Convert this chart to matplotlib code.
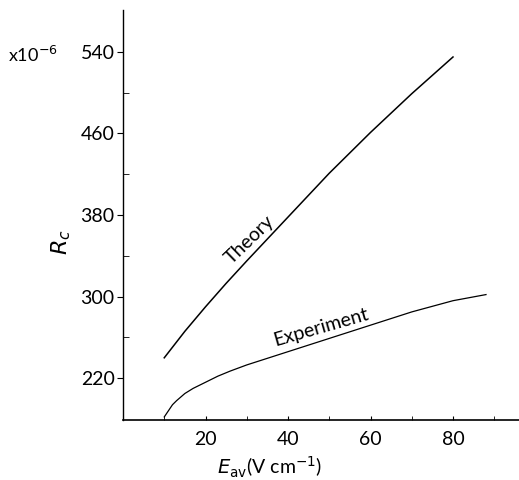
import numpy as np
import matplotlib
matplotlib.use("Agg")
import matplotlib.pyplot as plt
from matplotlib.ticker import FixedLocator

# curve values (E_av in V/cm, R_c in units of 1e-6)
theory_e = [10, 15, 20, 25, 30, 40, 50, 60, 70, 80]
theory_r = [240, 266, 290, 313, 335, 378, 421, 461, 499, 535]

exp_e = [10, 11, 12, 13, 15, 17, 20, 23, 26, 30, 40, 50, 60, 70, 80, 88]
exp_r = [182, 188, 194, 198, 205, 210, 216, 222, 227, 233, 246, 259, 272, 285, 296, 302]

x_ticks = [20, 40, 60, 80]
x_minor = [10, 30, 50, 70, 90]
y_ticks = [220, 300, 380, 460, 540]
y_minor = [260, 340, 420, 500]

plt.rcParams['font.family'] = ['Lato', 'DejaVu Sans']

fig = plt.figure(figsize=(5.19, 4.8), dpi=100)
ax = fig.add_axes([0.237, 0.125, 0.763, 0.854])

ax.plot(theory_e, theory_r, color='black', lw=1.1)
ax.plot(exp_e, exp_r, color='black', lw=0.9)

ax.set_xlim(0, 96)
ax.set_ylim(179, 581)
ax.set_xticks(x_ticks)
ax.set_yticks(y_ticks)
ax.xaxis.set_minor_locator(FixedLocator(x_minor))
ax.yaxis.set_minor_locator(FixedLocator(y_minor))

ax.spines['top'].set_visible(False)
ax.spines['right'].set_visible(False)
ax.spines['left'].set_linewidth(1.0)
ax.spines['bottom'].set_linewidth(1.2)

ax.tick_params(axis='y', which='major', direction='out', length=4, labelsize=14, pad=2)
ax.tick_params(axis='y', which='minor', direction='in', length=4)
ax.tick_params(axis='x', which='both', direction='in', length=3, labelsize=14, pad=8)

# curve labels
ax.text(30.8, 356, 'Theory', rotation=44, fontsize=14, ha='center', va='center')
ax.text(48, 270, 'Experiment', rotation=16, fontsize=14, ha='center', va='center')

fig.text(0.015, 0.885, r'x10$^{-6}$', fontsize=13, ha='left', va='center')
fig.text(0.118, 0.495, r'$R_c$', fontsize=16, rotation=90, ha='center', va='center')
fig.text(0.52, 0.027, r'$E_{\rm av}$(V cm$^{-1}$)', fontsize=14, ha='center', va='center')

fig.savefig('out.png', dpi=100)
